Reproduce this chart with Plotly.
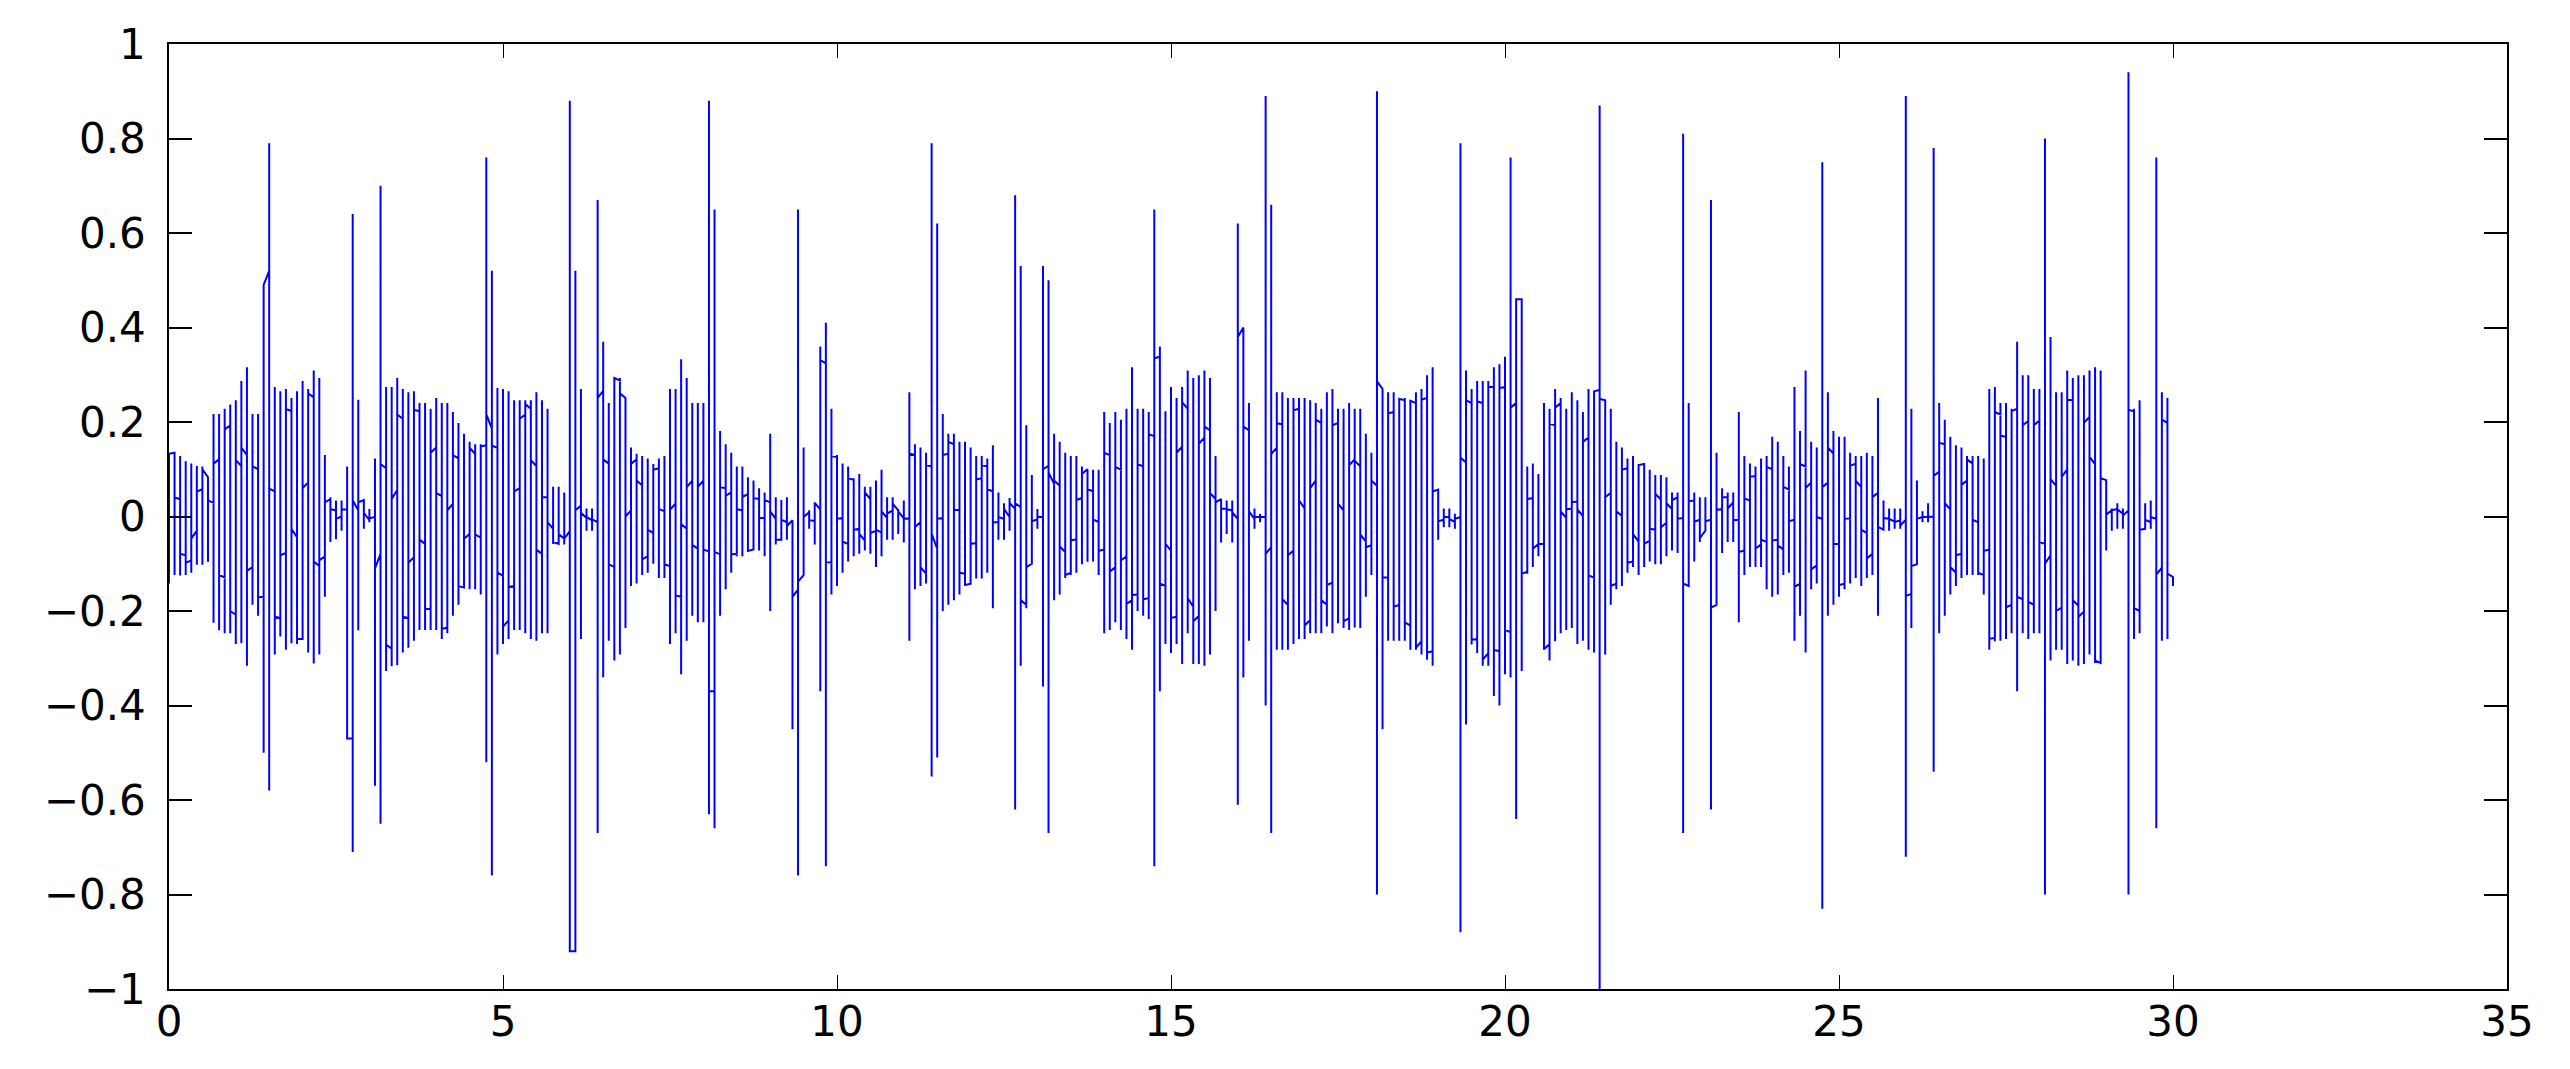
import plotly.graph_objects as go

# Signal sampled on a 1/12 time grid; each sample column drawn from entry level,
# to column maximum, to column minimum, to exit level, then on to the next column.
samples_per_unit = 12
n_columns = 360

col_top = [
    0.132, 0.128, 0.128, 0.117, 0.112, 0.107, 0.106, 0.083, 0.217, 0.217, 0.228, 0.237,
    0.246, 0.287, 0.316, 0.217, 0.217, 0.49, 0.79, 0.274, 0.265, 0.270, 0.251, 0.265,
    0.287, 0.270, 0.309, 0.293, 0.130, 0.041, 0.034, 0.034, 0.106, 0.64, 0.247, 0.034,
    0.016, 0.123, 0.70, 0.274, 0.274, 0.293, 0.270, 0.263, 0.265, 0.240, 0.240, 0.228,
    0.251, 0.240, 0.240, 0.221, 0.198, 0.175, 0.158, 0.153, 0.153, 0.76, 0.52, 0.272,
    0.270, 0.265, 0.246, 0.246, 0.246, 0.246, 0.263, 0.246, 0.228, 0.063, 0.063, 0.051,
    0.88, 0.52, 0.270, 0.017, 0.017, 0.67, 0.37, 0.240, 0.293, 0.293, 0.251, 0.146,
    0.133, 0.128, 0.123, 0.111, 0.123, 0.128, 0.270, 0.270, 0.333, 0.293, 0.240, 0.240,
    0.240, 0.88, 0.65, 0.181, 0.153, 0.135, 0.106, 0.106, 0.083, 0.076, 0.060, 0.051,
    0.175, 0.041, 0.035, 0.041, -0.008, 0.65, 0.146, 0.013, 0.030, 0.36, 0.41, 0.228,
    0.130, 0.112, 0.106, 0.081, 0.090, 0.063, 0.063, 0.076, 0.099, 0.041, 0.041, 0.016,
    0.034, 0.263, 0.153, 0.146, 0.135, 0.79, 0.62, 0.217, 0.175, 0.175, 0.158, 0.158,
    0.146, 0.128, 0.128, 0.123, 0.151, 0.051, 0.028, 0.039, 0.68, 0.53, 0.193, 0.088,
    0.016, 0.53, 0.50, 0.175, 0.158, 0.135, 0.128, 0.128, 0.106, 0.099, 0.099, 0.099,
    0.221, 0.198, 0.221, 0.205, 0.228, 0.316, 0.228, 0.228, 0.221, 0.65, 0.36, 0.223,
    0.274, 0.251, 0.274, 0.309, 0.293, 0.299, 0.309, 0.293, 0.128, 0.034, 0.034, 0.034,
    0.62, 0.40, 0.240, 0.017, 0.006, 0.89, 0.66, 0.263, 0.263, 0.251, 0.251, 0.251,
    0.251, 0.246, 0.240, 0.228, 0.263, 0.270, 0.228, 0.228, 0.240, 0.228, 0.228, 0.175,
    0.135, 0.90, 0.270, 0.263, 0.263, 0.251, 0.251, 0.246, 0.263, 0.270, 0.299, 0.316,
    0.057, 0.017, 0.017, 0.006, 0.79, 0.309, 0.270, 0.287, 0.287, 0.287, 0.316, 0.322,
    0.338, 0.76, 0.46, 0.46, 0.106, 0.112, 0.090, 0.240, 0.228, 0.270, 0.251, 0.228,
    0.263, 0.246, 0.221, 0.270, 0.265, 0.87, 0.246, 0.228, 0.158, 0.146, 0.123, 0.128,
    0.111, 0.111, 0.099, 0.088, 0.088, 0.083, 0.051, 0.051, 0.81, 0.240, 0.051, 0.041,
    0.041, 0.67, 0.135, 0.060, 0.051, 0.051, 0.221, 0.128, 0.112, 0.106, 0.123, 0.128,
    0.169, 0.158, 0.128, 0.106, 0.274, 0.181, 0.309, 0.158, 0.146, 0.75, 0.263, 0.181,
    0.169, 0.169, 0.135, 0.128, 0.128, 0.135, 0.128, 0.251, 0.034, 0.017, 0.017, 0.017,
    0.89, 0.228, 0.076, 0.011, 0.028, 0.78, 0.240, 0.205, 0.169, 0.151, 0.146, 0.128,
    0.128, 0.128, 0.123, 0.270, 0.274, 0.240, 0.240, 0.228, 0.37, 0.299, 0.299, 0.270,
    0.270, 0.80, 0.38, 0.263, 0.263, 0.309, 0.293, 0.299, 0.299, 0.309, 0.316, 0.309,
    0.077, 0.017, 0.028, 0.017, 0.94, 0.228, 0.246, 0.028, 0.034, 0.76, 0.263, 0.251,
]

col_bottom = [
    -0.142, -0.124, -0.125, -0.124, -0.119, -0.102, -0.102, -0.096, -0.225, -0.241, -0.247, -0.247,
    -0.270, -0.268, -0.316, -0.187, -0.210, -0.50, -0.58, -0.292, -0.254, -0.282, -0.268, -0.270,
    -0.261, -0.288, -0.311, -0.292, -0.170, -0.054, -0.048, -0.030, -0.47, -0.71, -0.241, -0.026,
    -0.012, -0.57, -0.65, -0.327, -0.317, -0.315, -0.288, -0.278, -0.263, -0.240, -0.240, -0.240,
    -0.240, -0.259, -0.247, -0.210, -0.187, -0.150, -0.154, -0.154, -0.165, -0.52, -0.76, -0.292,
    -0.270, -0.259, -0.240, -0.240, -0.247, -0.259, -0.263, -0.247, -0.247, -0.058, -0.059, -0.059,
    -0.92, -0.92, -0.259, -0.030, -0.030, -0.67, -0.34, -0.263, -0.305, -0.292, -0.236, -0.147,
    -0.142, -0.124, -0.119, -0.100, -0.130, -0.130, -0.270, -0.247, -0.334, -0.263, -0.210, -0.224,
    -0.224, -0.63, -0.66, -0.210, -0.154, -0.119, -0.084, -0.084, -0.072, -0.072, -0.072, -0.084,
    -0.200, -0.059, -0.035, -0.049, -0.45, -0.76, -0.124, -0.026, -0.059, -0.37, -0.74, -0.165,
    -0.147, -0.119, -0.095, -0.084, -0.079, -0.072, -0.079, -0.107, -0.084, -0.049, -0.049, -0.037,
    -0.055, -0.263, -0.154, -0.147, -0.142, -0.55, -0.51, -0.200, -0.187, -0.177, -0.165, -0.147,
    -0.135, -0.131, -0.131, -0.119, -0.194, -0.049, -0.049, -0.030, -0.62, -0.316, -0.194, -0.100,
    -0.026, -0.36, -0.67, -0.177, -0.165, -0.130, -0.124, -0.119, -0.101, -0.096, -0.095, -0.124,
    -0.247, -0.240, -0.224, -0.240, -0.259, -0.282, -0.200, -0.210, -0.217, -0.74, -0.37, -0.270,
    -0.289, -0.270, -0.312, -0.247, -0.312, -0.312, -0.316, -0.292, -0.200, -0.055, -0.037, -0.055,
    -0.61, -0.341, -0.263, -0.026, -0.012, -0.40, -0.67, -0.282, -0.282, -0.282, -0.270, -0.259,
    -0.259, -0.247, -0.247, -0.247, -0.233, -0.247, -0.226, -0.236, -0.240, -0.235, -0.236, -0.170,
    -0.124, -0.80, -0.45, -0.263, -0.263, -0.263, -0.263, -0.282, -0.282, -0.292, -0.303, -0.316,
    -0.049, -0.023, -0.023, -0.026, -0.88, -0.44, -0.271, -0.289, -0.316, -0.316, -0.38, -0.40,
    -0.334, -0.341, -0.64, -0.327, -0.121, -0.107, -0.084, -0.282, -0.305, -0.264, -0.247, -0.240,
    -0.236, -0.270, -0.263, -0.282, -0.288, -1.0, -0.292, -0.187, -0.154, -0.147, -0.119, -0.107,
    -0.124, -0.107, -0.095, -0.101, -0.101, -0.084, -0.072, -0.077, -0.67, -0.147, -0.095, -0.054,
    -0.026, -0.62, -0.187, -0.077, -0.054, -0.054, -0.224, -0.124, -0.107, -0.107, -0.107, -0.154,
    -0.170, -0.165, -0.124, -0.119, -0.263, -0.210, -0.288, -0.154, -0.142, -0.83, -0.210, -0.187,
    -0.170, -0.154, -0.142, -0.130, -0.147, -0.130, -0.124, -0.210, -0.030, -0.030, -0.026, -0.026,
    -0.72, -0.236, -0.100, -0.012, -0.012, -0.54, -0.247, -0.210, -0.165, -0.147, -0.130, -0.124,
    -0.124, -0.124, -0.165, -0.282, -0.264, -0.263, -0.259, -0.247, -0.37, -0.247, -0.259, -0.247,
    -0.247, -0.80, -0.305, -0.282, -0.282, -0.312, -0.305, -0.316, -0.312, -0.292, -0.310, -0.310,
    -0.072, -0.030, -0.026, -0.026, -0.80, -0.259, -0.247, -0.026, -0.026, -0.66, -0.263, -0.259,
]

col_exit = [
    0.133, 0.041, -0.079, -0.098, -0.047, 0.053, 0.100, 0.034, 0.112, -0.124, 0.184, -0.200,
    0.119, 0.146, -0.115, 0.106, -0.171, 0.49, 0.059, -0.212, -0.082, 0.228, -0.026, -0.259,
    0.060, 0.261, -0.095, -0.093, 0.030, 0.016, -0.005, 0.015, -0.47, 0.034, 0.030, 0.008,
    -0.004, -0.110, 0.111, -0.271, 0.037, 0.216, -0.212, -0.098, 0.226, -0.049, -0.196, 0.135,
    0.050, -0.238, 0.013, 0.130, -0.147, -0.047, 0.146, -0.038, 0.148, 0.216, 0.15, -0.118,
    -0.233, -0.149, 0.053, 0.207, 0.238, 0.119, -0.070, 0.041, -0.012, -0.054, -0.037, -0.047,
    -0.92, 0.013, 0.008, -0.001, -0.006, 0.251, 0.121, -0.101, 0.293, 0.261, 0.000, 0.111,
    0.076, -0.091, -0.028, 0.099, 0.016, -0.101, 0.014, -0.166, -0.016, 0.062, -0.060, 0.063,
    -0.070, -0.37, -0.075, 0.062, 0.044, -0.080, 0.016, 0.041, -0.073, 0.039, -0.003, 0.035,
    0.011, -0.049, -0.007, -0.020, -0.170, -0.138, -0.001, -0.007, 0.029, 0.331, -0.096, 0.128,
    -0.005, -0.053, 0.081, -0.028, -0.037, 0.051, -0.035, -0.028, 0.011, 0.006, 0.027, 0.011,
    -0.004, 0.133, -0.022, -0.107, 0.109, -0.037, -0.005, 0.130, 0.158, 0.014, -0.119, -0.145,
    -0.058, 0.078, 0.109, 0.058, -0.012, -0.001, 0.016, 0.029, 0.028, -0.177, -0.107, -0.010,
    -0.001, 0.100, 0.093, 0.076, -0.063, -0.124, -0.051, 0.035, 0.090, 0.058, -0.006, -0.073,
    0.135, -0.117, 0.105, -0.093, -0.185, -0.166, 0.111, -0.175, 0.174, 0.335, -0.142, -0.058,
    -0.215, 0.135, 0.242, -0.173, -0.222, 0.154, 0.191, 0.050, 0.030, 0.017, 0.016, 0.009,
    0.38, 0.191, 0.011, -0.001, -0.001, -0.079, 0.132, 0.198, -0.175, -0.082, 0.225, 0.034,
    -0.231, 0.060, 0.205, -0.177, -0.145, 0.193, 0.027, -0.222, 0.109, 0.118, -0.038, -0.065,
    0.076, 0.286, -0.129, 0.218, -0.191, 0.249, -0.224, 0.245, -0.278, 0.247, -0.288, 0.053,
    -0.010, -0.001, -0.005, -0.005, 0.125, 0.246, -0.261, 0.244, -0.303, 0.274, -0.282, 0.272,
    -0.240, 0.230, 0.46, -0.121, 0.037, -0.068, -0.058, -0.281, 0.196, 0.230, 0.011, 0.015,
    0.030, 0.015, 0.158, -0.124, 0.265, 0.249, 0.041, -0.147, 0.011, 0.099, -0.098, -0.037,
    0.109, -0.058, -0.026, 0.048, -0.023, 0.028, 0.034, -0.005, -0.142, 0.032, -0.011, -0.046,
    -0.010, -0.193, 0.014, 0.041, 0.017, -0.008, -0.075, 0.038, 0.084, -0.068, -0.049, 0.105,
    -0.051, -0.061, 0.063, -0.010, -0.149, 0.111, 0.060, -0.112, -0.001, 0.062, 0.146, -0.058,
    -0.145, -0.005, 0.107, 0.076, -0.028, -0.089, 0.041, -0.022, -0.003, -0.005, -0.012, -0.019,
    -0.168, -0.105, -0.005, -0.001, -0.001, 0.086, 0.156, 0.028, -0.107, -0.082, 0.067, 0.121,
    -0.007, -0.119, -0.073, -0.259, 0.221, 0.172, -0.192, 0.223, -0.170, 0.193, -0.180, 0.193,
    -0.054, -0.100, 0.079, -0.200, 0.084, 0.247, -0.177, -0.213, 0.198, 0.126, -0.305, 0.081,
    0.004, 0.013, 0.015, 0.002, 0.226, -0.194, -0.028, -0.007, -0.001, -0.123, 0.205, -0.121,
]

col_entry = [
    -0.142, 0.135, 0.036, -0.082, -0.093, -0.030, 0.058, 0.083, 0.029, 0.121, -0.129, 0.193,
    -0.208, 0.107, 0.130, -0.107, 0.100, -0.170, 0.52, 0.053, -0.215, -0.077, 0.223, -0.044,
    -0.259, 0.072, 0.252, -0.105, -0.084, 0.037, 0.013, 0.000, 0.015, -0.47, 0.013, 0.035,
    -0.008, -0.001, -0.079, 0.102, -0.280, 0.056, 0.207, -0.215, -0.086, 0.223, -0.058, -0.196,
    0.146, 0.043, -0.235, 0.027, 0.123, -0.150, -0.037, 0.132, -0.045, 0.151, 0.186, 0.145,
    -0.126, -0.220, -0.147, 0.060, 0.216, 0.228, 0.107, -0.079, 0.041, -0.026, -0.058, -0.047,
    -0.031, -0.92, 0.023, -0.003, -0.008, -0.012, 0.266, 0.112, -0.107, 0.288, 0.251, 0.013,
    0.121, 0.066, -0.084, -0.035, 0.102, 0.011, -0.105, 0.028, -0.170, -0.026, 0.076, -0.068,
    0.076, -0.074, -0.37, -0.080, 0.060, 0.051, -0.079, 0.013, 0.048, -0.070, 0.037, -0.003,
    0.030, -0.005, -0.049, -0.012, -0.008, -0.155, -0.124, 0.009, -0.010, 0.015, 0.324, -0.098,
    0.126, -0.003, -0.058, 0.078, -0.026, -0.051, 0.037, -0.030, -0.034, -0.003, 0.013, 0.013,
    -0.004, -0.005, 0.130, -0.012, -0.121, 0.106, -0.068, -0.003, 0.133, 0.153, 0.014, -0.121,
    -0.142, -0.056, 0.081, 0.106, 0.053, -0.012, -0.005, -0.001, 0.016, 0.020, -0.187, -0.100,
    -0.006, -0.001, 0.107, 0.069, 0.065, -0.075, -0.119, -0.048, 0.039, 0.100, 0.053, -0.012,
    -0.070, 0.130, -0.107, 0.099, -0.084, -0.177, -0.165, 0.106, -0.173, 0.170, 0.338, -0.147,
    -0.072, -0.212, 0.148, 0.228, -0.191, -0.210, 0.167, 0.182, 0.037, 0.037, 0.016, 0.013,
    -0.005, 0.40, 0.182, -0.005, -0.001, -0.001, -0.065, 0.146, 0.195, -0.187, -0.072, 0.228,
    0.017, -0.219, 0.076, 0.198, -0.187, -0.140, 0.198, 0.013, -0.215, 0.121, 0.106, -0.053,
    -0.061, 0.065, 0.270, -0.129, 0.221, -0.187, 0.246, -0.231, 0.240, -0.264, 0.251, -0.285,
    0.057, -0.007, -0.001, -0.012, -0.001, 0.114, 0.240, -0.259, 0.240, -0.289, 0.274, -0.285,
    0.274, -0.245, 0.240, 0.46, -0.117, 0.039, -0.058, -0.058, -0.270, 0.193, 0.240, -0.003,
    0.017, 0.032, 0.001, 0.167, -0.130, 0.268, 0.246, 0.050, -0.142, 0.001, 0.102, -0.095,
    -0.053, 0.111, -0.051, -0.028, 0.036, -0.013, 0.016, 0.041, -0.003, -0.147, 0.034, -0.007,
    -0.030, -0.007, -0.187, 0.016, 0.041, 0.030, -0.007, -0.072, 0.034, 0.086, -0.059, -0.054,
    0.100, -0.049, -0.070, 0.057, -0.007, -0.142, 0.106, 0.072, -0.103, -0.005, 0.072, 0.133,
    -0.058, -0.142, -0.004, 0.112, 0.062, -0.035, -0.079, 0.050, -0.028, -0.005, -0.011, -0.008,
    -0.007, -0.164, -0.101, -0.001, -0.001, 0.000, 0.095, 0.153, 0.015, -0.119, -0.079, 0.076,
    0.112, -0.012, -0.124, -0.070, -0.257, 0.216, 0.168, -0.187, 0.228, -0.175, 0.202, -0.187,
    0.203, -0.058, -0.082, 0.065, -0.193, 0.100, 0.246, -0.189, -0.201, 0.211, 0.111, -0.310,
    0.077, 0.013, 0.016, 0.006, 0.013, 0.223, -0.200, -0.026, -0.012, -0.005, -0.108, 0.198,
    -0.128,
]
end_value = -0.147

x_tick_values = [0, 5, 10, 15, 20, 25, 30, 35]
x_tick_labels = ["0", "5", "10", "15", "20", "25", "30", "35"]
y_tick_values = [-1, -0.8, -0.6, -0.4, -0.2, 0, 0.2, 0.4, 0.6, 0.8, 1]
y_tick_labels = ["\u22121", "\u22120.8", "\u22120.6", "\u22120.4", "\u22120.2", "0",
                 "0.2", "0.4", "0.6", "0.8", "1"]

# Build the polyline
xs, ys = [], []
for k in range(n_columns):
    t = k / samples_per_unit
    xs.extend([t, t, t, t])
    ys.extend([col_entry[k], col_top[k], col_bottom[k], col_exit[k]])
t_end = n_columns / samples_per_unit
xs.extend([t_end, t_end])
ys.extend([col_entry[n_columns], end_value])

fig = go.Figure()
fig.add_trace(go.Scatter(
    x=xs, y=ys, mode="lines",
    line=dict(color="#0000FF", width=2.0, simplify=False),
    hoverinfo="skip", showlegend=False,
))

font = dict(family="DejaVu Sans, Verdana, sans-serif", size=42, color="black")
axis_common = dict(
    showgrid=False, zeroline=False, showline=True, linecolor="black", linewidth=1.6,
    mirror="ticks", ticks="inside", tickcolor="black", tickfont=font,
)
# page body has an 8px margin, so the figure is sized and offset to compensate
fig.update_layout(
    width=2554, height=1050,
    margin=dict(l=161, r=55, t=36, b=63, pad=0),
    paper_bgcolor="white", plot_bgcolor="white",
    xaxis=dict(range=[0, 35], tickvals=x_tick_values, ticktext=x_tick_labels,
               ticklen=14, tickwidth=1.2, ticklabelstandoff=-5, **axis_common),
    yaxis=dict(range=[-1, 1], tickvals=y_tick_values, ticktext=y_tick_labels,
               ticklen=23, tickwidth=2, ticklabelstandoff=13, **axis_common),
)

fig.write_html("out.html")
